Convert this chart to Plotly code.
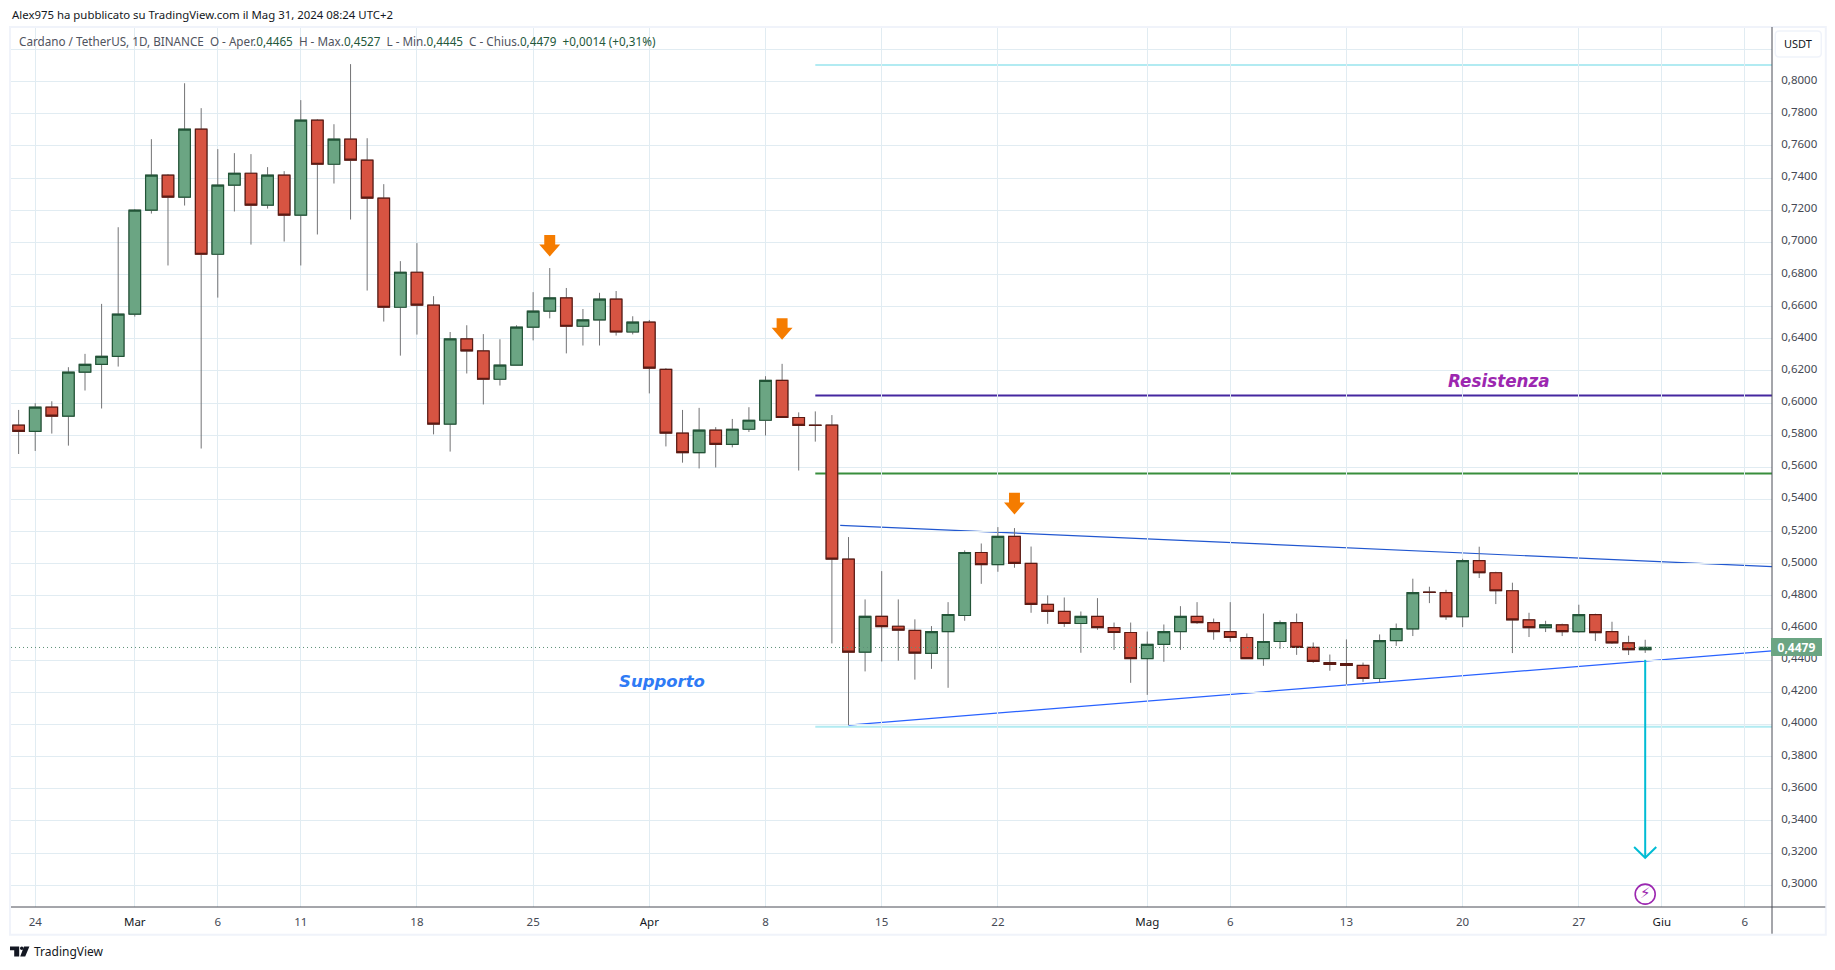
import numpy as np
import pandas as pd
import plotly.graph_objects as go

dates = pd.date_range("2024-02-23", periods=99).strftime("%Y-%m-%d").tolist()
open_ = [.5862,.5824,.5974,.5918,.6192,.6241,.6291,.6553,.7200,.7418,.7281,.7704,.6926,.7356,.7430,.7231,.7418,.7169,.7760,.7486,
         .7642,.7511,.7275,.6596,.6814,.6609,.5869,.6399,.6324,.6148,.6236,.6472,.6572,.6654,.6478,.6517,.6647,.6442,.6504,.6210,
         .5813,.5691,.5831,.5743,.5837,.5893,.6141,.5910,.5862,.5863,.5029,.4450,.4673,.4611,.4585,.4442,.4578,.4678,.5070,.4995,
         .5170,.5002,.4747,.4703,.4628,.4672,.4603,.4572,.4410,.4498,.4578,.4672,.4634,.4578,.4541,.4410,.4516,.4634,.4479,.4385,
         .4379,.4367,.4286,.4522,.4595,.4824,.4820,.4670,.5019,.4944,.4832,.4651,.4602,.4620,.4577,.4683,.4577,.4508,.4465]
high_ = [.5957,.5999,.6011,.6223,.6306,.6617,.7094,.7206,.7642,.7424,.7990,.7835,.7580,.7555,.7549,.7468,.7443,.7885,.7766,.7735,
         .8109,.7648,.7362,.6883,.6995,.6665,.6442,.6484,.6429,.6397,.6484,.6690,.6840,.6716,.6585,.6686,.6697,.6540,.6517,.6217,
         .5957,.5970,.5850,.5901,.5974,.6167,.6244,.5942,.5948,.5925,.5166,.4778,.4954,.4778,.4654,.4612,.4761,.5083,.5126,.5228,
         .5222,.5107,.4803,.4790,.4703,.4786,.4634,.4634,.4578,.4622,.4736,.4761,.4659,.4761,.4566,.4690,.4647,.4690,.4510,.4435,
         .4529,.4385,.4560,.4628,.4907,.4857,.4838,.5031,.5106,.4950,.4882,.4695,.4645,.4627,.4745,.4689,.4639,.4552,.4527]
low_ = [.5683,.5702,.5810,.5735,.6078,.5966,.6227,.6538,.7179,.6856,.7229,.5717,.6656,.7192,.6986,.7210,.7005,.6856,.7049,.7366,
        .7142,.6700,.6507,.6295,.6426,.5805,.5698,.6184,.5991,.6109,.6236,.6390,.6527,.6309,.6358,.6358,.6420,.6427,.6060,.5730,
        .5629,.5593,.5599,.5724,.5820,.5798,.5910,.5580,.5760,.4504,.3996,.4330,.4392,.4397,.4279,.4346,.4228,.4645,.4875,.4950,
        .4975,.4695,.4626,.4607,.4446,.4589,.4464,.4259,.4184,.4390,.4464,.4626,.4527,.4514,.4410,.4365,.4471,.4433,.4383,.4334,
        .4249,.4265,.4261,.4489,.4550,.4755,.4651,.4606,.4911,.4749,.4444,.4544,.4575,.4550,.4571,.4519,.4502,.4432,.4445]
close_ = [.5824,.5974,.5918,.6192,.6241,.6291,.6553,.7200,.7418,.7281,.7704,.6926,.7356,.7430,.7231,.7418,.7169,.7760,.7486,.7642,
          .7511,.7275,.6596,.6814,.6609,.5869,.6399,.6324,.6148,.6236,.6472,.6572,.6654,.6478,.6517,.6647,.6442,.6504,.6217,.5813,
          .5691,.5831,.5743,.5837,.5893,.6141,.5910,.5861,.5861,.5029,.4450,.4673,.4609,.4587,.4444,.4578,.4684,.5070,.4995,.5170,
          .5002,.4747,.4703,.4628,.4672,.4603,.4572,.4410,.4498,.4578,.4672,.4634,.4578,.4541,.4410,.4516,.4634,.4479,.4392,.4373,
          .4367,.4286,.4522,.4597,.4820,.4822,.4670,.5019,.4944,.4832,.4651,.4602,.4620,.4577,.4683,.4571,.4508,.4465,.4479]

tick_dates = ["2024-02-24","2024-03-01","2024-03-06","2024-03-11","2024-03-18","2024-03-25","2024-04-01","2024-04-08",
              "2024-04-15","2024-04-22","2024-05-01","2024-05-06","2024-05-13","2024-05-20","2024-05-27","2024-06-01","2024-06-06"]
tick_names = ["24","Mar","6","11","18","25","Apr","8","15","22","Mag","6","13","20","27","Giu","6"]
y_ticks = [.30,.32,.34,.36,.38,.40,.42,.44,.46,.48,.50,.52,.54,.56,.58,.60,.62,.64,.66,.68,.70,.72,.74,.76,.78,.80,.82]
y_labels = ["0,3000","0,3200","0,3400","0,3600","0,3800","0,4000","0,4200","0,4400","0,4600","0,4800","0,5000","0,5200","0,5400",
            "0,5600","0,5800","0,6000","0,6200","0,6400","0,6600","0,6800","0,7000","0,7200","0,7400","0,7600","0,7800","0,8000",""]
x_range = ["2024-02-22 13:00","2024-06-07 15:22"]
y_range = [.2864,.834]

level_start = "2024-04-11"
level_top, level_bottom, level_res, level_mid = .8104, .3985, .6047, .5561
upper_x, upper_y = ["2024-04-12 12:00", x_range[1]], [.5239,.4982]
lower_x, lower_y = ["2024-04-13", x_range[1]], [.3996,.4458]
last_price = .4479
last_date = "2024-05-31"
target_y = [.4402,.3170]
wing_y = .3237
wing_x = ["2024-05-30 08:00","2024-05-31 16:00"]
flag_y = .2944
arrow_dates = ["2024-03-26","2024-04-09","2024-04-23"]
arrow_tops = [.7046,.6528,.5441]

RED, GREEN, RED_B, GREEN_B, WICK = "#d75442","#6ba583","#5b1a13","#225437","#737375"
GRID = "#e1ecf2"; FRAME = "#f0f3fa"; AXIS = "#4a4d57"; TEXT = "#131722"; LABEL = "#50535e"; FONT = "Noto Sans"; TICK = "#454954"

W, H = 1835, 970
L, R, T, B = 11, 1771.7, 27, 907.3
px = lambda x: (x - L) / (R - L)
py = lambda y: 1 - (y - T) / (B - T)

body_hi = np.maximum(open_, close_).tolist()
body_lo = np.minimum(open_, close_).tolist()
tick_text = [f'<span style="color:{TEXT}">{t}</span>' if t.isalpha() else t for t in tick_names]

fig = go.Figure()
fig.add_trace(go.Candlestick(x=dates, open=open_, high=high_, low=low_, close=close_, whiskerwidth=0,
    increasing=dict(line=dict(color=WICK, width=1), fillcolor=GREEN),
    decreasing=dict(line=dict(color=WICK, width=1), fillcolor=RED), showlegend=False))
fig.add_trace(go.Candlestick(x=dates, open=open_, high=body_hi, low=body_lo, close=close_, whiskerwidth=0,
    increasing=dict(line=dict(color=GREEN_B, width=1.2), fillcolor=GREEN),
    decreasing=dict(line=dict(color=RED_B, width=1.2), fillcolor=RED), showlegend=False))
fig.add_trace(go.Scatter(x=x_range, y=[last_price, last_price], mode="lines",
    line=dict(color="#5c9077", width=1, dash="1px 3px"), showlegend=False))

for d, top in zip(arrow_dates, arrow_tops):
    c = pd.Timestamp(d)
    off = lambda v: (c + pd.Timedelta(days=v)).strftime("%Y-%m-%d %H:%M")
    fig.add_trace(go.Scatter(
        x=[off(-.33), off(.33), off(.33), off(.63), off(0), off(-.63), off(-.33), off(-.33)],
        y=[top, top, top-.006, top-.006, top-.0134, top-.006, top-.006, top],
        mode="lines", fill="toself", fillcolor="#f57c00", line=dict(color="#f57c00", width=0), showlegend=False))

fig.add_trace(go.Scatter(x=[last_date, last_date], y=target_y, mode="lines",
    line=dict(color="#00bcd4", width=2), showlegend=False))
fig.add_trace(go.Scatter(x=[wing_x[0], last_date, wing_x[1]], y=[wing_y, target_y[1], wing_y], mode="lines",
    line=dict(color="#00bcd4", width=2), showlegend=False))
fig.add_trace(go.Scatter(x=[last_date], y=[flag_y], mode="markers+text", text=["⚡"], textposition="middle center",
    textfont=dict(color="#9c27b0", size=15, family="DejaVu Sans"),
    marker=dict(symbol="circle-open", size=20, color="#9c27b0", line=dict(color="#9c27b0", width=1.6)), showlegend=False))

shapes = []
def dline(x, y, color, width):
    shapes.append(dict(type="line", xref="x", yref="y", x0=x[0], x1=x[1], y0=y[0], y1=y[1], layer="below",
                       line=dict(color=color, width=width)))
dline([level_start, x_range[1]], [level_top]*2, "#b2ebf2", 2)
dline([level_start, x_range[1]], [level_bottom]*2, "#b2ebf2", 2)
dline([level_start, x_range[1]], [level_res]*2, "#4527a0", 2)
dline([level_start, x_range[1]], [level_mid]*2, "#388e3c", 2)
dline(upper_x, upper_y, "#2157d0", 1.2)
dline(lower_x, lower_y, "#2962ff", 1.2)

def pline(x0, y0, x1, y1, color, width):
    shapes.append(dict(type="line", xref="paper", yref="paper", x0=px(x0), x1=px(x1), y0=py(y0), y1=py(y1),
                       line=dict(color=color, width=width), layer="above"))
shapes.append(dict(type="rect", xref="paper", yref="paper", x0=px(10), x1=px(1825.5), y0=py(27), y1=py(935),
                   line=dict(color=FRAME, width=2), layer="above"))
pline(1771.7, 27, 1771.7, 934, AXIS, 1)
pline(11, 907.3, 1825, 907.3, AXIS, 1)
bx0, bx1, by0, by1, r = 1775, 1821, 31, 57, 4
P = lambda x, y: f"{px(x):.6f},{py(y):.6f}"
shapes.append(dict(type="path", xref="paper", yref="paper", layer="above", fillcolor="white",
    line=dict(color=FRAME, width=1.5),
    path=f"M {P(bx0+r,by0)} L {P(bx1-r,by0)} Q {P(bx1,by0)} {P(bx1,by0+r)} L {P(bx1,by1-r)} Q {P(bx1,by1)} {P(bx1-r,by1)} "
         f"L {P(bx0+r,by1)} Q {P(bx0,by1)} {P(bx0,by1-r)} L {P(bx0,by0+r)} Q {P(bx0,by0)} {P(bx0+r,by0)} Z"))
logo = f"M {P(10,946.7)} L {P(19.2,946.7)} L {P(19.2,956.7)} L {P(14.2,956.7)} L {P(14.2,950.6)} L {P(10,950.6)} Z " \
       f"M {P(24,946.7)} L {P(29.4,946.7)} L {P(25.2,956.7)} L {P(20.2,956.7)} Z"
shapes.append(dict(type="path", xref="paper", yref="paper", layer="above", fillcolor=TEXT, line=dict(width=0), path=logo))
shapes.append(dict(type="circle", xref="paper", yref="paper", layer="above", fillcolor=TEXT, line=dict(width=0),
                   x0=px(20), x1=px(23.6), y0=py(946.7), y1=py(950.3)))

V = "#22573a"
legend = (f'Cardano / TetherUS, 1D, BINANCE  O - Aper.<span style="color:{V}">0,4465</span>  H - Max.<span style="color:{V}">0,4527</span>'
          f'  L - Min.<span style="color:{V}">0,4445</span>  C - Chius.<span style="color:{V}">0,4479</span>  <span style="color:{V}">+0,0014 (+0,31%)</span>')
C = dict(xanchor="center", yanchor="middle", showarrow=False)
LFT = dict(xanchor="left", yanchor="middle", showarrow=False)
ann = [
    dict(x=px(10), y=py(14), xref="paper", yref="paper", text="Alex975 ha pubblicato su TradingView.com il Mag 31, 2024 08:24 UTC+2",
         font=dict(family=FONT, size=11.4, color=TEXT), **LFT),
    dict(x=px(16.5), y=py(41.5), xref="paper", yref="paper", text=legend, font=dict(family=FONT, size=11.7, color=LABEL), **LFT),
    dict(x=px(32), y=py(951.5), xref="paper", yref="paper", text="TradingView", font=dict(family=FONT, size=12, color=TEXT), **LFT),
    dict(x=px(1798), y=py(44), xref="paper", yref="paper", text="USDT", font=dict(family=FONT, size=11, color=TEXT), **C),
    dict(x=px(1796.2), y=last_price, xref="paper", yref="y", width=47, height=14, bgcolor=GREEN,
         bordercolor=GREEN, borderwidth=1, text="<b>0,4479</b>", font=dict(family=FONT, size=12, color="white"), **C),
    dict(x="2024-05-22 04:00", y=.6138, xref="x", yref="y", text="<b><i>Resistenza</i></b>",
         font=dict(family="DejaVu Sans", size=16.8, color="#9c27b0"), **C),
    dict(x="2024-04-01 19:00", y=.4265, xref="x", yref="y", text="<b><i>Supporto</i></b>",
         font=dict(family="DejaVu Sans", size=16.5, color="#2f7bf5"), **C),
]

fig.update_layout(
    width=W, height=H, autosize=False, margin=dict(l=L, r=W-R, t=T, b=H-B),
    paper_bgcolor="white", plot_bgcolor="white",
    boxgap=.3, boxgroupgap=0, showlegend=False, hovermode=False, shapes=shapes, annotations=ann,
    xaxis=dict(type="date", range=x_range, rangeslider=dict(visible=False), tickmode="array", tickvals=tick_dates,
               ticktext=tick_text, showgrid=True, gridcolor=GRID, gridwidth=1, showline=False, zeroline=False,
               ticks="outside", ticklen=4, tickcolor="rgba(0,0,0,0)", tickfont=dict(family=FONT, size=11.5, color=TICK)),
    yaxis=dict(side="right", range=y_range, tickmode="array", tickvals=y_ticks, ticktext=y_labels, showgrid=True, gridcolor=GRID,
               gridwidth=1, showline=False, zeroline=False, ticks="outside", ticklen=6, tickcolor="rgba(0,0,0,0)", ticklabelshift=-2,
               tickfont=dict(family=FONT, size=11.5, color=TICK)),
)
fig.write_html("out.html", config=dict(displayModeBar=False),
               post_script="document.body.style.margin='0';document.body.style.overflow='hidden';")
